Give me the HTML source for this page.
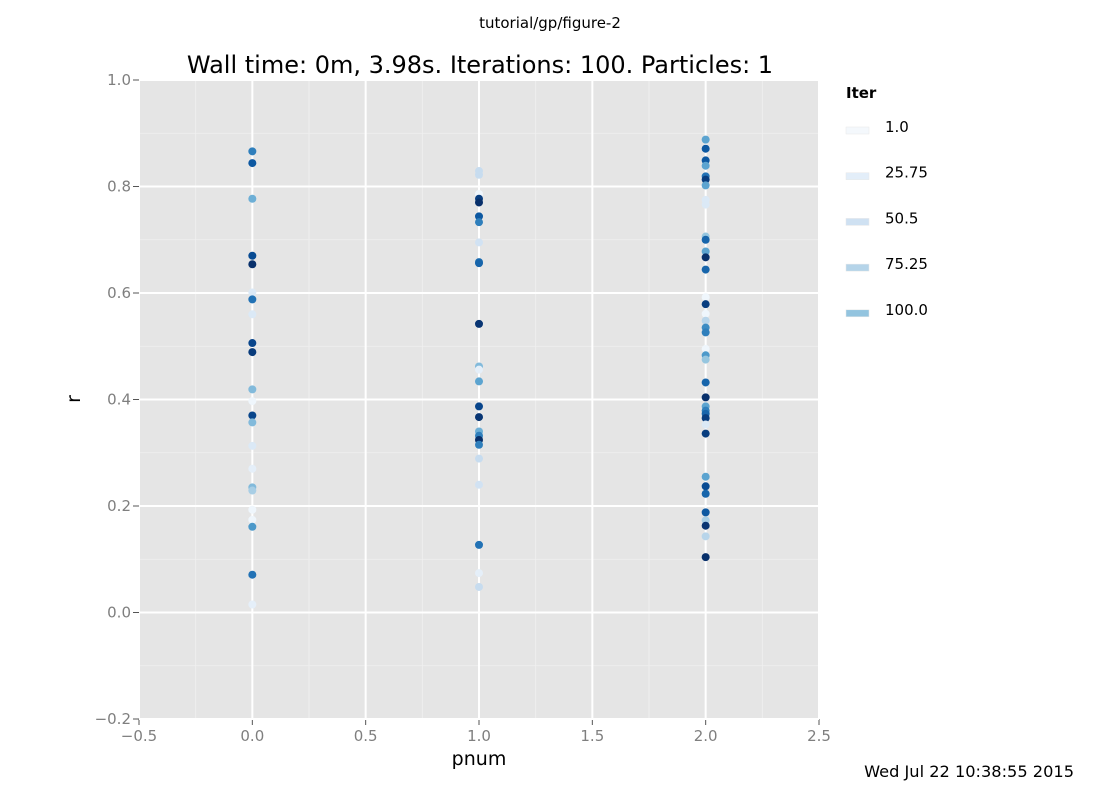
<!DOCTYPE html>
<html><head><meta charset="utf-8"><style>
body{margin:0;background:#fff;font-family:"DejaVu Sans","Liberation Sans",sans-serif}
svg text{font-family:"DejaVu Sans","Liberation Sans",sans-serif}
</style></head><body>
<svg id="c" width="1100" height="800"></svg>
<script>
const col0R=[0.866,0.844,0.777,0.670,0.654,0.601,0.588,0.560,0.506,0.489,0.419,0.397,0.370,0.357,0.313,0.270,0.235,0.229,0.193,0.174,0.161,0.071,0.015];
const col0I=[70,85,50,90,100,15,75,15,92,96,45,5,92,45,15,10,45,35,5,5,60,75,10];
const col1R=[0.829,0.822,0.786,0.777,0.770,0.744,0.733,0.695,0.658,0.656,0.542,0.462,0.456,0.434,0.387,0.367,0.340,0.332,0.324,0.315,0.289,0.240,0.127,0.074,0.048];
const col1I=[25,25,5,95,100,85,70,20,75,80,98,45,10,55,92,98,50,70,100,70,25,20,75,10,25];
const col2R=[0.888,0.871,0.849,0.839,0.819,0.813,0.802,0.775,0.766,0.706,0.700,0.678,0.667,0.644,0.592,0.579,0.561,0.548,0.535,0.526,0.495,0.483,0.475,0.432,0.404,0.387,0.379,0.373,0.365,0.353,0.336,0.255,0.237,0.223,0.188,0.173,0.163,0.143,0.104];
const col2I=[55,85,85,55,75,95,55,15,15,40,80,55,100,80,5,95,5,30,65,70,5,60,40,80,100,55,70,80,95,15,95,55,90,80,85,35,98,30,100];
const xTicks=[-0.5,0,0.5,1,1.5,2,2.5];
const yTicks=[-0.2,0,0.2,0.4,0.6,0.8,1.0];
const legendLabels=["1.0","25.75","50.5","75.25","100.0"];
const legendColors=["#f4f8fc","#e3eef9","#cfe1f2","#b5d4e9","#93c4df"];

const svg=document.getElementById('c');const NS="http://www.w3.org/2000/svg";
const L=139,R=819,T=80,B=719;
const xs=v=>L+(v+0.5)/3*(R-L);
const ys=v=>B-(v+0.2)/1.2*(B-T);
function mk(t,a,p){const e=document.createElementNS(NS,t);for(const k in a)e.setAttribute(k,a[k]);(p||svg).appendChild(e);return e;}
const blues=[[247,251,255],[222,235,247],[198,219,239],[158,202,225],[107,174,214],[66,146,198],[33,113,181],[8,81,156],[8,48,107]];
function cmap(it){let t=(it-1)/99;t=Math.max(0,Math.min(1,t))*8;const i=Math.min(7,Math.floor(t)),f=t-i;const a=blues[i],b=blues[i+1];return `rgb(${a.map((v,k)=>Math.round(v+(b[k]-v)*f)).join(',')})`;}

const bg=mk('rect',{x:L,y:T,width:R-L,height:B-T,fill:'#e5e5e5'});


for(let i=0;i<xTicks.length-1;i++){const v=(xTicks[i]+xTicks[i+1])/2;const g=mk('line',{x1:xs(v),x2:xs(v),y1:T,y2:B,stroke:'#f0f0f0','stroke-width':0.8});}
for(let i=0;i<yTicks.length-1;i++){const v=(yTicks[i]+yTicks[i+1])/2;const g=mk('line',{x1:L,x2:R,y1:ys(v),y2:ys(v),stroke:'#f0f0f0','stroke-width':0.8});}
xTicks.forEach(v=>{const g=mk('line',{x1:xs(v),x2:xs(v),y1:T,y2:B,stroke:'#fff','stroke-width':2});
const tk=mk('line',{x1:xs(v),x2:xs(v),y1:B,y2:B+6,stroke:'#555','stroke-width':1});
const t=mk('text',{x:xs(v),y:B+22,'text-anchor':'middle','font-size':15,fill:'#7f7f7f'});t.textContent=(v<0?'\u2212':'')+Math.abs(v).toFixed(1);});
yTicks.forEach(v=>{const g=mk('line',{x1:L,x2:R,y1:ys(v),y2:ys(v),stroke:'#fff','stroke-width':2});
const tk=mk('line',{x1:L-6,x2:L,y1:ys(v),y2:ys(v),stroke:'#555','stroke-width':1});
const t=mk('text',{x:L-8,y:ys(v)+5,'text-anchor':'end','font-size':15,fill:'#7f7f7f'});t.textContent=(v<0?'\u2212':'')+Math.abs(v).toFixed(1);});

[[0,col0R,col0I],[1,col1R,col1I],[2,col2R,col2I]].forEach(([x,rs,is])=>{
 rs.forEach((r,i)=>{const c=mk('circle',{cx:xs(x),cy:ys(r),r:4,fill:cmap(is[i])});
 
 });});

function txt(s,a,name){const t=mk('text',a);t.textContent=s;return t;}
txt('tutorial/gp/figure-2',{x:550,y:28,'text-anchor':'middle','font-size':15,fill:'#000'},'figure-suptitle');
txt('Wall time: 0m, 3.98s. Iterations: 100. Particles: 1',{x:480,y:73,'text-anchor':'middle','font-size':24,fill:'#000'},'chart-title');
txt('pnum',{x:479,y:765,'text-anchor':'middle','font-size':19,fill:'#000'},'x-axis-title');
txt('r',{x:80,y:399,'text-anchor':'middle','font-size':19,fill:'#000',transform:'rotate(-90 80 399)'},'y-axis-title');
txt('Wed Jul 22 10:38:55 2015',{x:1074,y:777,'text-anchor':'end','font-size':16.2,fill:'#000'},'timestamp');
txt('Iter',{x:846,y:98,'font-size':15,'font-weight':'bold',fill:'#000'},'legend-title');
legendLabels.forEach((l,i)=>{const y=131+i*45.7;
 const r=mk('rect',{x:846,y:y-4,width:23,height:7,fill:legendColors[i],stroke:'#e8e8e8','stroke-width':0.5});
 
 txt(l,{x:885,y:y+1,'font-size':15,fill:'#000'},'legend-label');});
</script></body></html>
